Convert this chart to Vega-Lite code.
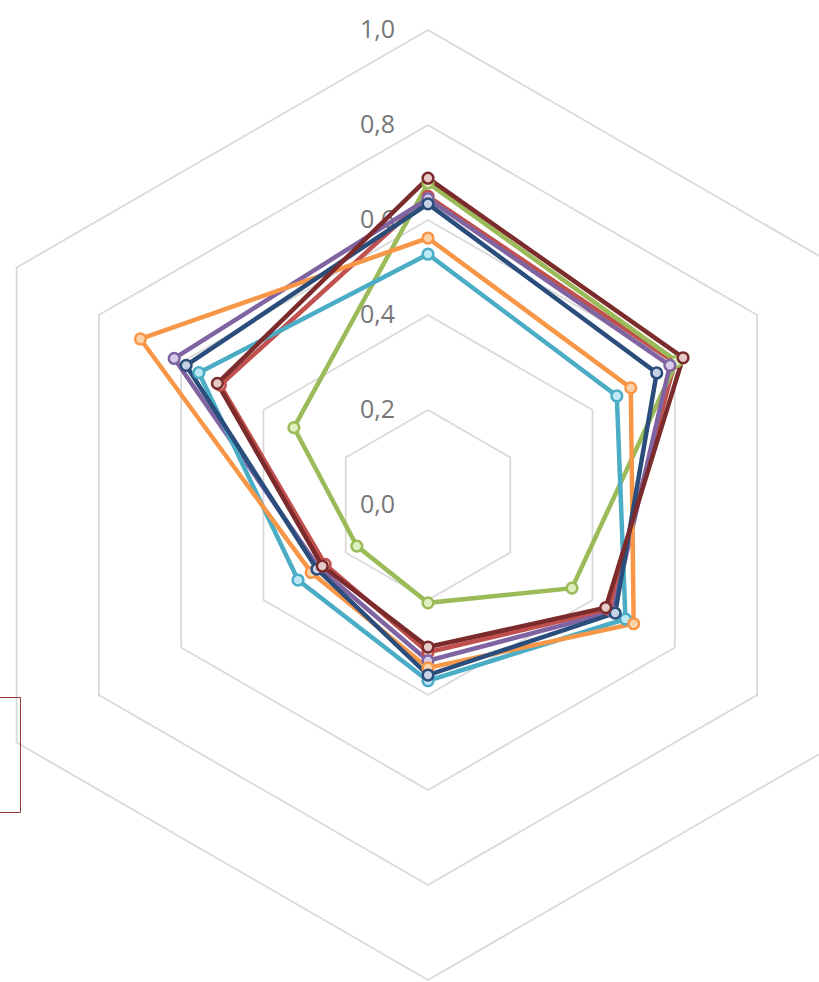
{
  "$schema": "https://vega.github.io/schema/vega-lite/v6.json",
  "width": 819,
  "height": 982,
  "autosize": {"type": "none"},
  "padding": 0,
  "background": "white",
  "config": {"view": {"stroke": null}},
  "datasets": {
    "series": [
      {"s": "Serie 1", "i": 0, "v": 0.65}, {"s": "Serie 1", "i": 1, "v": 0.60}, {"s": "Serie 1", "i": 2, "v": 0.44}, {"s": "Serie 1", "i": 3, "v": 0.31}, {"s": "Serie 1", "i": 4, "v": 0.25}, {"s": "Serie 1", "i": 5, "v": 0.505},
      {"s": "Serie 2", "i": 0, "v": 0.678}, {"s": "Serie 2", "i": 1, "v": 0.605}, {"s": "Serie 2", "i": 2, "v": 0.35}, {"s": "Serie 2", "i": 3, "v": 0.206}, {"s": "Serie 2", "i": 4, "v": 0.173}, {"s": "Serie 2", "i": 5, "v": 0.326},
      {"s": "Serie 3", "i": 0, "v": 0.645}, {"s": "Serie 3", "i": 1, "v": 0.588}, {"s": "Serie 3", "i": 2, "v": 0.45}, {"s": "Serie 3", "i": 3, "v": 0.328}, {"s": "Serie 3", "i": 4, "v": 0.265}, {"s": "Serie 3", "i": 5, "v": 0.617},
      {"s": "Serie 4", "i": 0, "v": 0.528}, {"s": "Serie 4", "i": 1, "v": 0.459}, {"s": "Serie 4", "i": 2, "v": 0.48}, {"s": "Serie 4", "i": 3, "v": 0.37}, {"s": "Serie 4", "i": 4, "v": 0.316}, {"s": "Serie 4", "i": 5, "v": 0.557},
      {"s": "Serie 5", "i": 0, "v": 0.562}, {"s": "Serie 5", "i": 1, "v": 0.493}, {"s": "Serie 5", "i": 2, "v": 0.50}, {"s": "Serie 5", "i": 3, "v": 0.343}, {"s": "Serie 5", "i": 4, "v": 0.284}, {"s": "Serie 5", "i": 5, "v": 0.699},
      {"s": "Serie 6", "i": 0, "v": 0.634}, {"s": "Serie 6", "i": 1, "v": 0.556}, {"s": "Serie 6", "i": 2, "v": 0.455}, {"s": "Serie 6", "i": 3, "v": 0.358}, {"s": "Serie 6", "i": 4, "v": 0.27}, {"s": "Serie 6", "i": 5, "v": 0.588},
      {"s": "Serie 7", "i": 0, "v": 0.688}, {"s": "Serie 7", "i": 1, "v": 0.62}, {"s": "Serie 7", "i": 2, "v": 0.432}, {"s": "Serie 7", "i": 3, "v": 0.299}, {"s": "Serie 7", "i": 4, "v": 0.257}, {"s": "Serie 7", "i": 5, "v": 0.512}
    ],
    "grid": [
      {"lv": 0.2, "i": 0}, {"lv": 0.2, "i": 1}, {"lv": 0.2, "i": 2}, {"lv": 0.2, "i": 3}, {"lv": 0.2, "i": 4}, {"lv": 0.2, "i": 5},
      {"lv": 0.4, "i": 0}, {"lv": 0.4, "i": 1}, {"lv": 0.4, "i": 2}, {"lv": 0.4, "i": 3}, {"lv": 0.4, "i": 4}, {"lv": 0.4, "i": 5},
      {"lv": 0.6, "i": 0}, {"lv": 0.6, "i": 1}, {"lv": 0.6, "i": 2}, {"lv": 0.6, "i": 3}, {"lv": 0.6, "i": 4}, {"lv": 0.6, "i": 5},
      {"lv": 0.8, "i": 0}, {"lv": 0.8, "i": 1}, {"lv": 0.8, "i": 2}, {"lv": 0.8, "i": 3}, {"lv": 0.8, "i": 4}, {"lv": 0.8, "i": 5},
      {"lv": 1.0, "i": 0}, {"lv": 1.0, "i": 1}, {"lv": 1.0, "i": 2}, {"lv": 1.0, "i": 3}, {"lv": 1.0, "i": 4}, {"lv": 1.0, "i": 5}
    ],
    "labels": [
      {"lv": 0.0, "t": "0,0"}, {"lv": 0.2, "t": "0,2"}, {"lv": 0.4, "t": "0,4"}, {"lv": 0.6, "t": "0,6"}, {"lv": 0.8, "t": "0,8"}, {"lv": 1.0, "t": "1,0"}
    ]
  },
  "layer": [
    {
      "data": {"name": "grid"},
      "transform": [
        {"calculate": "datum.lv * cos(PI / 2 - datum.i * PI / 3)", "as": "x"},
        {"calculate": "datum.lv * sin(PI / 2 - datum.i * PI / 3)", "as": "y"}
      ],
      "mark": {"type": "line", "interpolate": "linear-closed", "color": "#D9D9D9", "strokeWidth": 1.8},
      "encoding": {
        "x": {"field": "x", "type": "quantitative", "scale": {"domain": [-0.90105, 0.82316], "nice": false, "zero": false}, "axis": null},
        "y": {"field": "y", "type": "quantitative", "scale": {"domain": [-1.00421, 1.06316], "nice": false, "zero": false}, "axis": null},
        "detail": {"field": "lv", "type": "nominal"},
        "order": {"field": "i", "type": "quantitative"}
      }
    },
    {
      "data": {"name": "labels"},
      "transform": [{"calculate": "0", "as": "x"}],
      "mark": {"type": "text", "align": "right", "baseline": "middle", "dx": -33, "font": "Open Sans", "fontSize": 25, "color": "#777777"},
      "encoding": {
        "x": {"field": "x", "type": "quantitative"},
        "y": {"field": "lv", "type": "quantitative"},
        "text": {"field": "t", "type": "nominal"}
      }
    },
    {
      "data": {"name": "series"},
      "transform": [
        {"calculate": "datum.v * cos(PI / 2 - datum.i * PI / 3)", "as": "x"},
        {"calculate": "datum.v * sin(PI / 2 - datum.i * PI / 3)", "as": "y"}
      ],
      "mark": {"type": "line", "interpolate": "linear-closed", "strokeWidth": 4.5},
      "encoding": {
        "x": {"field": "x", "type": "quantitative"},
        "y": {"field": "y", "type": "quantitative"},
        "stroke": {
          "field": "s", "type": "nominal",
          "scale": {"domain": ["Serie 1", "Serie 2", "Serie 3", "Serie 4", "Serie 5", "Serie 6", "Serie 7"], "range": ["#C0504D", "#9BBB59", "#8064A2", "#4BACC6", "#F79646", "#2A4D7B", "#7B2B2B"]},
          "legend": {"orient": "none", "legendX": -68, "legendY": 697, "strokeColor": "#953735", "padding": 26, "labelFontSize": 7, "rowPadding": 0, "symbolSize": 40, "symbolType": "stroke", "symbolStrokeWidth": 2, "title": null}
        },
        "order": {"field": "i", "type": "quantitative"}
      }
    },
    {
      "data": {"name": "series"},
      "transform": [
        {"calculate": "datum.v * cos(PI / 2 - datum.i * PI / 3)", "as": "x"},
        {"calculate": "datum.v * sin(PI / 2 - datum.i * PI / 3)", "as": "y"}
      ],
      "mark": {"type": "point", "shape": "circle", "filled": false, "size": 115, "strokeWidth": 2.5, "opacity": 1},
      "encoding": {
        "x": {"field": "x", "type": "quantitative"},
        "y": {"field": "y", "type": "quantitative"},
        "stroke": {"field": "s", "type": "nominal"},
        "fill": {
          "field": "s", "type": "nominal",
          "scale": {"domain": ["Serie 1", "Serie 2", "Serie 3", "Serie 4", "Serie 5", "Serie 6", "Serie 7"], "range": ["#EFCACA", "#DDF0BF", "#D9CCEA", "#BDE8F5", "#FCD2A9", "#C5D1E4", "#E6C9C9"]},
          "legend": null
        }
      }
    }
  ]
}
